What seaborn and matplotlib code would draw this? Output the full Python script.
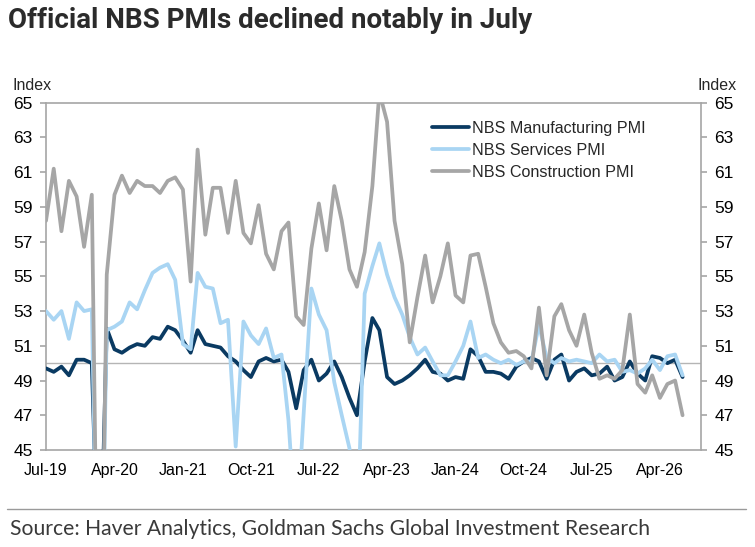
import pandas as pd
import matplotlib.pyplot as plt
import matplotlib.dates as mdates
import seaborn as sns

# monthly data, Jul-19 .. Jul-26
months = pd.date_range('2019-07-01', periods=85, freq='MS')

manufacturing = [
    49.7, 49.5, 49.8, 49.3, 50.2, 50.2,
    50.0, 35.7, 52.0, 50.8, 50.6, 50.9, 51.1, 51.0, 51.5, 51.4, 52.1, 51.9,
    51.3, 50.6, 51.9, 51.1, 51.0, 50.9, 50.4, 50.1, 49.6, 49.2, 50.1, 50.3,
    50.1, 50.2, 49.5, 47.4, 49.6, 50.2, 49.0, 49.4, 50.1, 49.2, 48.0, 47.0,
    50.1, 52.6, 51.9, 49.2, 48.8, 49.0, 49.3, 49.7, 50.2, 49.5, 49.4, 49.0,
    49.2, 49.1, 50.8, 50.4, 49.5, 49.5, 49.4, 49.1, 49.8, 50.1, 50.3, 50.1,
    49.1, 50.2, 50.5, 49.0, 49.5, 49.7, 49.3, 49.4, 49.8, 49.0, 49.2, 50.1,
    49.4, 49.0, 50.4, 50.3, 50.0, 50.2, 49.2,
]
services = [
    53.0, 52.5, 53.0, 51.4, 53.5, 53.0,
    53.1, 30.1, 51.9, 52.1, 52.4, 53.5, 53.1, 54.2, 55.2, 55.5, 55.7, 54.8,
    51.1, 50.8, 55.2, 54.4, 54.3, 52.3, 52.5, 45.2, 52.4, 51.6, 51.1, 52.0,
    50.3, 50.5, 46.7, 40.0, 47.1, 54.3, 52.8, 51.9, 48.9, 47.0, 45.1, 39.4,
    54.0, 55.6, 56.9, 55.1, 53.8, 52.8, 51.5, 50.5, 50.9, 50.1, 49.3, 49.3,
    50.1, 51.0, 52.4, 50.3, 50.5, 50.2, 50.0, 50.2, 49.9, 50.1, 50.1, 52.2,
    50.3, 50.0, 50.3, 50.1, 50.2, 50.1, 50.0, 50.5, 50.1, 50.2, 49.5, 49.6,
    49.4, 49.7, 50.2, 49.6, 50.4, 50.5, 49.3,
]
construction = [
    58.2, 61.2, 57.6, 60.5, 59.6, 56.7,
    59.7, 26.6, 55.1, 59.7, 60.8, 59.8, 60.5, 60.2, 60.2, 59.8, 60.5, 60.7,
    60.0, 54.7, 62.3, 57.4, 60.1, 60.1, 57.5, 60.5, 57.5, 56.9, 59.1, 56.3,
    55.4, 57.6, 58.1, 52.7, 52.2, 56.6, 59.2, 56.5, 60.2, 58.2, 55.4, 54.4,
    56.4, 60.2, 65.6, 63.9, 58.2, 55.7, 51.2, 53.8, 56.2, 53.5, 55.0, 56.9,
    53.9, 53.5, 56.2, 56.3, 54.4, 52.3, 51.2, 50.6, 50.7, 50.4, 49.7, 53.2,
    49.3, 52.7, 53.4, 51.9, 51.0, 52.8, 50.6, 49.1, 49.3, 49.1, 49.6, 52.8,
    48.8, 48.3, 49.3, 48.0, 48.8, 49.0, 47.0,
]

series_names = ['NBS Manufacturing PMI', 'NBS Services PMI', 'NBS Construction PMI']
colors = ['#0a3a62', '#a9d5f3', '#a6a6a6']

df = pd.concat([
    pd.DataFrame({'date': months, 'value': vals, 'series': name})
    for name, vals in zip(series_names, [manufacturing, services, construction])
])

sns.set_style('white')
plt.rcParams['font.family'] = ['Liberation Sans', 'DejaVu Sans']

fig = plt.figure(figsize=(7.55, 5.47), dpi=100)
ax = fig.add_axes([46 / 755, 1 - 450 / 547, (701 - 46) / 755, (450 - 102.7) / 547])

ax.axhline(50, color='#b5b5b5', lw=1.0, zorder=1)
sns.lineplot(data=df, x='date', y='value', hue='series', hue_order=series_names,
             palette=colors, linewidth=2.7, ax=ax, sort=False, zorder=3)

ax.set_ylim(45, 65)
ax.set_yticks(range(45, 66, 2))
ax.set_xlim(pd.Timestamp('2019-07-01'), pd.Timestamp('2026-09-13'))
ax.set_xticks(months[::9][:10])
ax.xaxis.set_major_formatter(mdates.DateFormatter('%b-%y'))
ax.set_xlabel('')
ax.set_ylabel('')

for s in ax.spines.values():
    s.set_color('#a6a6a6')
    s.set_linewidth(1.2)
ax.tick_params(axis='y', which='both', left=True, right=True, labelleft=True, labelright=True,
               direction='out', length=4.5, width=1.2, color='#a6a6a6', labelsize=12.5,
               pad=5, labelcolor='black')
ax.tick_params(axis='x', direction='out', length=4.5, width=1.2, color='#a6a6a6',
               labelsize=11.5, pad=5, labelcolor='black')

ax.legend(loc='upper left', bbox_to_anchor=(432 / 755, 1 - 121 / 547),
          bbox_transform=fig.transFigure, frameon=False, fontsize=11.6,
          handlelength=2.3, handletextpad=0.2, labelspacing=0.42,
          borderpad=0, borderaxespad=0)
for line in ax.get_legend().get_lines():
    line.set_linewidth(2.7)

fig.text(13 / 755, 1 - 85 / 547, 'Index', fontsize=11.5, va='center', ha='left')
fig.text(737 / 755, 1 - 85 / 547, 'Index', fontsize=11.5, va='center', ha='right')

fig.text(8 / 755, 1 - 21 / 547, 'Official NBS PMIs declined notably in July',
         fontsize=20, fontweight='bold', color='#2b2b2b', va='center', ha='left',
         family=['Liberation Sans Narrow', 'Roboto', 'DejaVu Sans'])

fig.add_artist(plt.Line2D([7 / 755, 746 / 755], [1 - 509 / 547, 1 - 509 / 547],
                          color='#9a9a9a', lw=1.0, transform=fig.transFigure))
fig.text(10 / 755, 1 - 529 / 547,
         'Source: Haver Analytics, Goldman Sachs Global Investment Research',
         fontsize=15.2, color='#3a3a3a', va='center', ha='left', family=['Lato', 'DejaVu Sans'])

fig.savefig('out.png', dpi=100, facecolor='white')
